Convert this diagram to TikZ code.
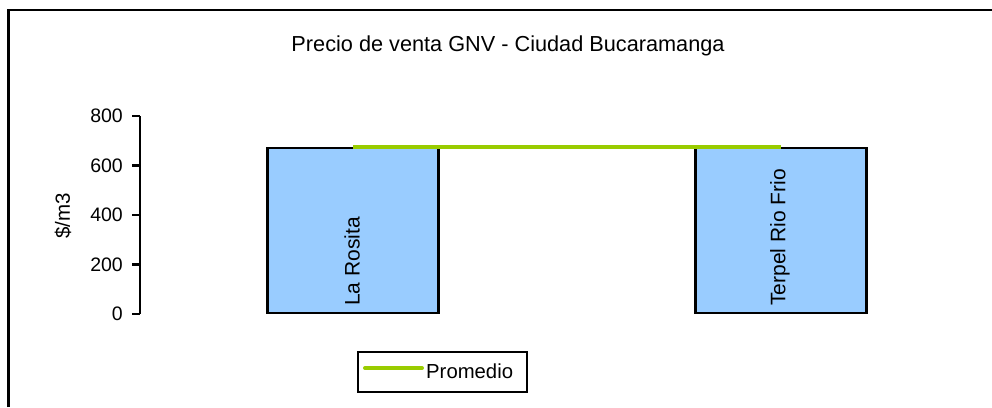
\documentclass[tikz,border=0pt]{standalone}
\usepackage{fontspec}
\setmainfont{Liberation Sans}
\definecolor{barblue}{HTML}{99CCFF}
\definecolor{avggreen}{HTML}{99CC00}
\begin{document}
\begin{tikzpicture}[x=1pt,y=-1pt,
  bar/.style={draw=black,line width=2.2pt,fill=barblue,minimum width=171pt,inner sep=0pt,anchor=south},
  barlabel/.style={rotate=90,anchor=west,inner sep=0pt,font=\fontsize{21}{25}\selectfont},
  ticklabel/.style={anchor=east,inner sep=0pt,font=\fontsize{19.5}{23}\selectfont},
  avgline/.style={draw=avggreen,line width=4pt},
  axisline/.style={draw=black,line width=2.2pt}]
\useasboundingbox (0,0) rectangle (992,407);
% frame (cropped)
\draw[line width=2.6pt] (8.5,407) -- (8.5,10) -- (992,10);
% title
\node[font=\fontsize{21.7}{26}\selectfont] (title) at (508,46) {Precio de venta GNV - Ciudad Bucaramanga};
% y axis
\coordinate (ytop) at (140,116);
\coordinate (ybot) at (140,314);
\draw[axisline] (ytop) -- (ybot);
\foreach \v/\yy in {0/314,200/264.5,400/215,600/165.5,800/116}{
  \coordinate (t\v) at (140,\yy);
  \coordinate (tl\v) at (132,\yy);
  \draw[axisline] (tl\v) -- (t\v);
  \node[ticklabel] (lab\v) at (123,\yy) {\v};
}
\node[rotate=90,font=\fontsize{20.5}{24}\selectfont] (ylab) at (63,216) {\$/m3};
% bars
\node[bar,minimum height=165pt] (bar1) at (353,314) {};
\node[bar,minimum height=165pt] (bar2) at (781,314) {};
\node[barlabel] (bl1) at (352,306) {La Rosita};
\node[barlabel] (bl2) at (780,306) {Terpel Rio Frio};
% average line
\draw[avgline] (bar1.north) -- (bar2.north);
% legend
\node[draw=black,line width=2.2pt,minimum width=169pt,minimum height=40pt,inner sep=0pt] (legend) at (442.5,372) {};
\coordinate (lg1) at (365,368);
\coordinate (lg2) at (422,368);
\draw[avgline,line cap=round] (lg1) -- (lg2);
\node[anchor=west,inner sep=0pt,font=\fontsize{20.3}{24}\selectfont] (legtext) at (426,371) {Promedio};
\end{tikzpicture}
\end{document}
